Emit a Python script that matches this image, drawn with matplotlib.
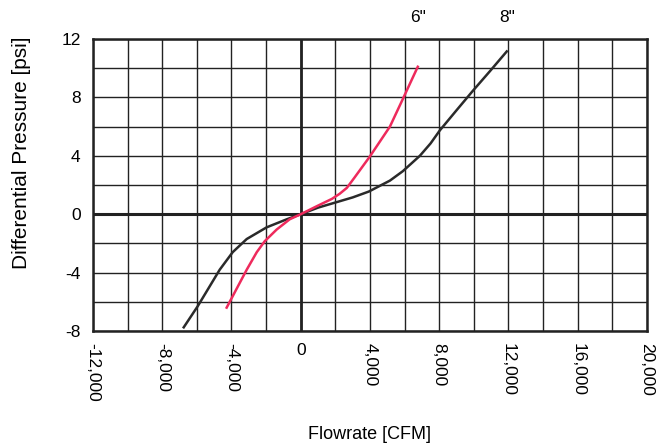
import matplotlib
matplotlib.use("Agg")
import matplotlib.pyplot as plt

# 8" damper curve (black)
flow_8in = [-6760, -5950, -4680, -3930, -3120, -1970, -810, 0, 1000, 2000, 3000,
            3930, 5150, 5900, 6880, 7500, 8040, 9020, 9940, 10930, 11900]
dp_8in = [-7.75, -6.3, -3.8, -2.6, -1.7, -0.9, -0.35, 0.0, 0.45, 0.8, 1.15,
          1.55, 2.3, 2.95, 4.0, 4.85, 5.75, 7.15, 8.45, 9.8, 11.15]

# 6" damper curve (red)
flow_6in = [-4280, -3700, -3120, -2540, -2080, -1390, -640, 0, 930, 1800, 2250,
            2660, 3100, 3990, 5150, 5900, 6760]
dp_6in = [-6.4, -5.1, -3.8, -2.6, -1.85, -1.05, -0.35, 0.0, 0.55, 1.05, 1.4,
          1.8, 2.5, 3.95, 6.0, 7.9, 10.1]

x_ticks = [-12000, -8000, -4000, 0, 4000, 8000, 12000, 16000, 20000]
x_labels = ["-12,000", "-8,000", "-4,000", "0", "4,000", "8,000", "12,000", "16,000", "20,000"]
y_ticks = [-8, -4, 0, 4, 8, 12]

plt.rcParams['font.family'] = ['Liberation Sans', 'DejaVu Sans']

fig = plt.figure(figsize=(6.61, 4.48), dpi=100)
ax = fig.add_axes([0.1407, 0.2612, 0.8381, 0.6517])

ax.set_xlim(-12000, 20000)
ax.set_ylim(-8, 12)

# grid every 2000 CFM / 2 psi
for gx in range(-12000, 20001, 2000):
    ax.axvline(gx, color='#222222', lw=1.0, zorder=1)
for gy in range(-8, 13, 2):
    ax.axhline(gy, color='#222222', lw=1.0, zorder=1)
ax.axvline(0, color='#222222', lw=2.0, zorder=2)
ax.axhline(0, color='#222222', lw=2.2, zorder=2)

ax.plot(flow_8in, dp_8in, color='#2a2a2a', lw=1.8, zorder=3)
ax.plot(flow_6in, dp_6in, color='#ee2a5c', lw=1.8, zorder=4)

ax.text(flow_6in[-1], 13.5, '6"', ha='center', va='center', fontsize=12.5, clip_on=False)
ax.text(flow_8in[-1], 13.5, '8"', ha='center', va='center', fontsize=12.5, clip_on=False)

for sp in ax.spines.values():
    sp.set_linewidth(1.8)
    sp.set_color('#222222')

ax.set_xticks(x_ticks)
ax.set_xticklabels(x_labels, rotation=270, va='top', ha='center', fontsize=12.5)
for lab in ax.get_xticklabels():
    if lab.get_text() == "0":
        lab.set_rotation(0)
ax.set_yticks(y_ticks)
ax.set_yticklabels([str(v) for v in y_ticks], fontsize=12.5)
ax.tick_params(length=0, pad=9)

ax.set_xlabel('Flowrate [CFM]', fontsize=13)
ax.set_ylabel('Differential Pressure [psi]', fontsize=15)
ax.xaxis.set_label_coords(0.5, -0.325)
ax.yaxis.set_label_coords(-0.112, 0.61)

fig.savefig('out.png', dpi=100)
